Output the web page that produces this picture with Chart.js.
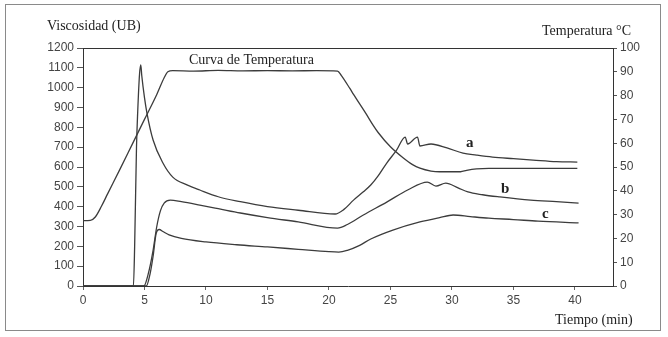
<!DOCTYPE html>
<html>
<head>
<meta charset="utf-8">
<script src="https://cdn.jsdelivr.net/npm/chart.js@4"></script>
<style>
  body { margin: 0; background: #fff; }
</style>
</head>
<body>
<canvas id="grafico" width="668" height="337"></canvas>
<script>
// tiempo (min) y viscosidad (UB) de cada curva
const tiempoA = [0, 4.1, 4.2, 4.35, 4.45, 4.6, 4.7, 4.78, 5.0, 5.2, 5.7, 6.5, 7.3, 8.5, 9.5, 11, 12.8, 15, 17.5, 20.5, 21.2, 22.0, 22.8, 23.4, 24.0, 24.7, 25.5, 26.2, 26.4, 27.2, 27.4, 28.3, 29.6, 30.9, 32, 33.3, 35, 36.6, 38.5, 40.2];
const viscA = [0, 0, 200, 700, 880, 1070, 1115, 1060, 950, 872, 736, 620, 549, 509, 484, 450, 425, 400, 382, 363, 385, 433, 475, 509, 555, 620, 685, 751, 716, 751, 706, 716, 696, 670, 660, 650, 642, 635, 627, 625];

const tiempoB = [0, 4.95, 5.3, 5.7, 6.0, 6.3, 6.6, 7.1, 8, 9.5, 11, 12.8, 15, 17.5, 20.7, 21.5, 22.8, 24.7, 26.4, 28.0, 28.7, 29.5, 30.5, 31.3, 32.5, 33.9, 36.4, 38.5, 40.3];
const viscB = [0, 0, 60, 180, 300, 380, 418, 433, 425, 408, 390, 368, 345, 323, 292, 310, 358, 423, 484, 524, 504, 519, 495, 474, 460, 449, 433, 425, 418];

const tiempoC = [0, 5.15, 5.45, 5.7, 5.95, 6.2, 6.5, 7.0, 8, 10, 12.5, 15, 17.5, 20, 20.8, 21.5, 22.5, 23.4, 25.2, 27.4, 29, 30.1, 31.5, 33, 35, 37, 40.3];
const viscC = [0, 0, 60, 150, 265, 285, 275, 258, 240, 222, 208, 197, 185, 173, 171, 180, 205, 237, 282, 323, 345, 358, 350, 342, 335, 327, 318];

// curva de temperatura (°C)
const tiempoT = [0, 0.6, 1.0, 1.5, 2, 3, 4, 5, 6, 6.6, 6.9, 7.3, 9, 11, 13, 15, 17, 19, 20.7, 21, 21.7, 22, 23, 23.6, 24, 25, 26, 26.8, 27.4, 28.3, 29, 30, 30.7, 31.2, 32, 33, 36, 40.2];
const temperatura = [27.5, 27.6, 29, 33.5, 38.7, 49, 59.5, 70, 80.5, 87.5, 90, 90.5, 90.3, 90.6, 90.4, 90.5, 90.4, 90.5, 90.3, 88.5, 83, 80.5, 72.5, 67.5, 64.5, 58.5, 54, 51, 49.5, 48.3, 48, 48, 48, 48.6, 49.2, 49.4, 49.4, 49.4];

const ticksX = [0, 5, 10, 15, 20, 25, 30, 35, 40];

const puntos = (xs, ys) => xs.map((x, i) => ({ x: x, y: ys[i] }));

const colorLinea = '#3c3c3c';
const fuenteNum = { family: "'Liberation Sans', Arial, sans-serif", size: 12 };
const sinComas = (v) => String(v);

const serie = (datos, eje) => ({
	data: datos,
	yAxisID: eje,
	borderColor: colorLinea,
	borderWidth: 1.3,
	pointRadius: 0,
	cubicInterpolationMode: 'monotone',
	fill: false
});

const textos = {
	id: 'textos',
	beforeDraw(chart) {
		const c = chart.ctx;
		c.save();
		c.fillStyle = '#fff';
		c.fillRect(0, 0, chart.width, chart.height);
		c.restore();
	},
	afterDraw(chart) {
		const c = chart.ctx;
		const a = chart.chartArea;
		c.save();
		// marco exterior
		c.strokeStyle = '#8a8a8a';
		c.lineWidth = 1;
		c.strokeRect(5.5, 4.5, 655, 326);
		// linea superior del area
		c.strokeStyle = '#333';
		c.beginPath();
		c.moveTo(a.left, a.top + 0.5);
		c.lineTo(a.right, a.top + 0.5);
		c.stroke();

		c.fillStyle = '#222';
		c.textBaseline = 'middle';
		c.font = "14px 'Liberation Serif', 'Times New Roman', serif";
		c.textAlign = 'left';
		c.fillText('Viscosidad (UB)', 47, 26);
		c.fillText('Temperatura °C', 542, 31);
		c.fillText('Tiempo (min)', 555, 320);
		c.fillText('Curva de Temperatura', 189, 60);
		c.font = "bold 15px 'Liberation Serif', 'Times New Roman', serif";
		c.fillText('a', 466, 143);
		c.fillText('b', 501, 189);
		c.fillText('c', 542, 214);
		c.restore();
	}
};

new Chart(document.getElementById('grafico'), {
	type: 'line',
	data: {
		datasets: [
			serie(puntos(tiempoA, viscA), 'y'),
			serie(puntos(tiempoB, viscB), 'y'),
			serie(puntos(tiempoC, viscC), 'y'),
			serie(puntos(tiempoT, temperatura), 'y1')
		]
	},
	options: {
		responsive: false,
		animation: false,
		devicePixelRatio: 1,
		layout: { padding: { top: 48, left: 0, right: 0, bottom: 0 } },
		plugins: { legend: { display: false }, tooltip: { enabled: false } },
		scales: {
			x: {
				type: 'linear',
				min: 0,
				max: 43.1,
				afterBuildTicks: (s) => { s.ticks = ticksX.map((v) => ({ value: v })); },
				afterFit: (s) => { s.height = 51; },
				ticks: { color: '#444', font: fuenteNum, padding: 3, maxRotation: 0, callback: sinComas },
				grid: { drawOnChartArea: false, drawTicks: true, tickLength: 4, color: '#666' },
				border: { color: '#333', width: 1 }
			},
			y: {
				position: 'left',
				min: 0,
				max: 1200,
				afterFit: (s) => { s.width = 83; },
				ticks: { stepSize: 100, color: '#444', font: fuenteNum, padding: 3, callback: sinComas },
				grid: { drawOnChartArea: false, drawTicks: true, tickLength: 6, color: '#555' },
				border: { color: '#333', width: 1 }
			},
			y1: {
				position: 'right',
				min: 0,
				max: 100,
				afterFit: (s) => { s.width = 55; },
				ticks: { stepSize: 10, color: '#444', font: fuenteNum, padding: 3, callback: sinComas },
				grid: { drawOnChartArea: false, drawTicks: true, tickLength: 4, color: '#555' },
				border: { color: '#333', width: 1 }
			}
		}
	},
	plugins: [textos]
});
</script>
</body>
</html>
